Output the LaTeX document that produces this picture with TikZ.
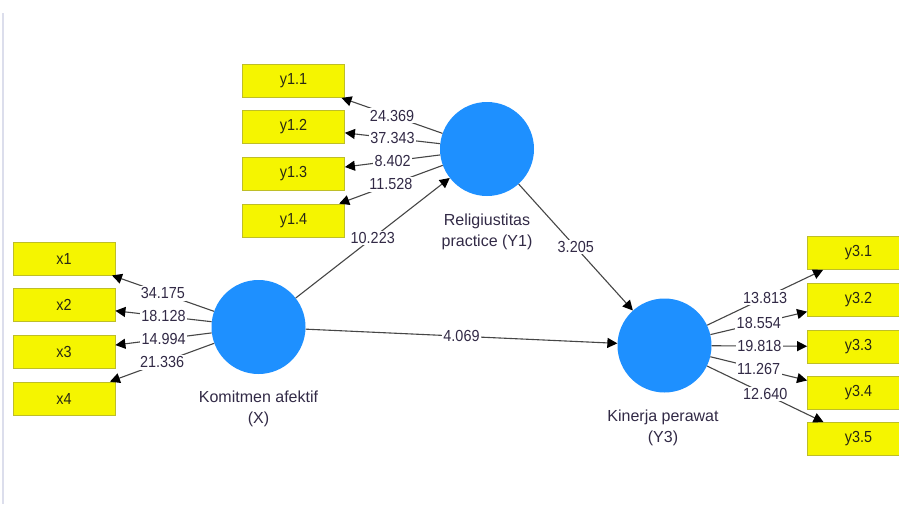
\documentclass[tikz,border=0pt]{standalone}
\usepackage{fontspec}
\setmainfont{Liberation Sans}
\newfontfamily\numfont[FakeStretch=0.9]{Liberation Sans}
\usetikzlibrary{arrows.meta}
\definecolor{boxfill}{RGB}{245,245,0}
\definecolor{boxdraw}{RGB}{190,190,40}
\definecolor{boxtext}{RGB}{40,40,20}
\definecolor{lvblue}{RGB}{30,144,255}
\definecolor{linecol}{RGB}{70,70,70}
\definecolor{txtcol}{RGB}{50,42,70}
\definecolor{edgeline}{RGB}{220,222,236}
\begin{document}
\begin{tikzpicture}[x=1pt,y=-1pt,
  ind/.style={rectangle, draw=boxdraw, line width=0.8pt, fill=boxfill, minimum width=102pt, minimum height=33pt, inner sep=0pt, font=\numfont\fontsize{16}{18}\selectfont, text=boxtext},
  lv/.style={circle, fill=lvblue, minimum size=94pt, inner sep=0pt},
  conn/.style={draw=linecol, line width=1.1pt, -{Triangle[length=10pt,width=10pt,color=black]}},
  val/.style={fill=white, inner sep=1.5pt, font=\numfont\fontsize{16}{18}\selectfont, text=txtcol},
  lbl/.style={align=center, font=\fontsize{16}{21}\selectfont, text=txtcol}]
\useasboundingbox (0,0) rectangle (899,504);
\clip (0,0) rectangle (899,504);
\fill[white] (0,0) rectangle (899,504);
\draw[edgeline, line width=1.6pt] (3,13) -- (3,504);

% latent variables
\node[lv] (X) at (258.5,327) {};
\node[lv] (Y1) at (487,149) {};
\node[lv] (Y3) at (664.5,345.5) {};

\node[lbl] (lX) at (258.5,409) {Komitmen afektif\\(X)};
\node[lbl] (lY1) at (487,232) {Religiustitas\\practice (Y1)};
\node[lbl] (lY3) at (663,427.5) {Kinerja perawat\\(Y3)};

% indicators
\node[ind] (x1) at (64,258.5) {x1};
\node[ind] (x2) at (64,305) {x2};
\node[ind] (x3) at (64,351.5) {x3};
\node[ind] (x4) at (64,398.5) {x4};

\node[ind] (y11) at (293.5,81) {y1.1};
\node[ind] (y12) at (293.5,127) {y1.2};
\node[ind] (y13) at (293.5,173.5) {y1.3};
\node[ind] (y14) at (293.5,220.5) {y1.4};

\node[ind] (y31) at (858.5,253) {y3.1};
\node[ind] (y32) at (858.5,299.5) {y3.2};
\node[ind] (y33) at (858.5,346.5) {y3.3};
\node[ind] (y34) at (858.5,393) {y3.4};
\node[ind] (y35) at (858.5,439) {y3.5};

% outer loadings
\draw[conn] (X) -- node[val]{34.175} (x1);
\draw[conn] (X) -- node[val]{18.128} (x2);
\draw[conn] (X) -- node[val]{14.994} (x3);
\draw[conn] (X) -- node[val]{21.336} (x4);

\draw[conn] (Y1) -- node[val]{24.369} (y11);
\draw[conn] (Y1) -- node[val]{37.343} (y12);
\draw[conn] (Y1) -- node[val]{8.402} (y13);
\draw[conn] (Y1) -- node[val]{11.528} (y14);

\draw[conn] (Y3) -- node[val]{13.813} (y31);
\draw[conn] (Y3) -- node[val]{18.554} (y32);
\draw[conn] (Y3) -- node[val]{19.818} (y33);
\draw[conn] (Y3) -- node[val]{11.267} (y34);
\draw[conn] (Y3) -- node[val]{12.640} (y35);

% structural paths
\draw[conn] (X) -- node[val]{10.223} (Y1);
\draw[conn] (X) -- node[val]{4.069} (Y3);
\draw[conn] (Y1) -- node[val]{3.205} (Y3);
\end{tikzpicture}
\end{document}
